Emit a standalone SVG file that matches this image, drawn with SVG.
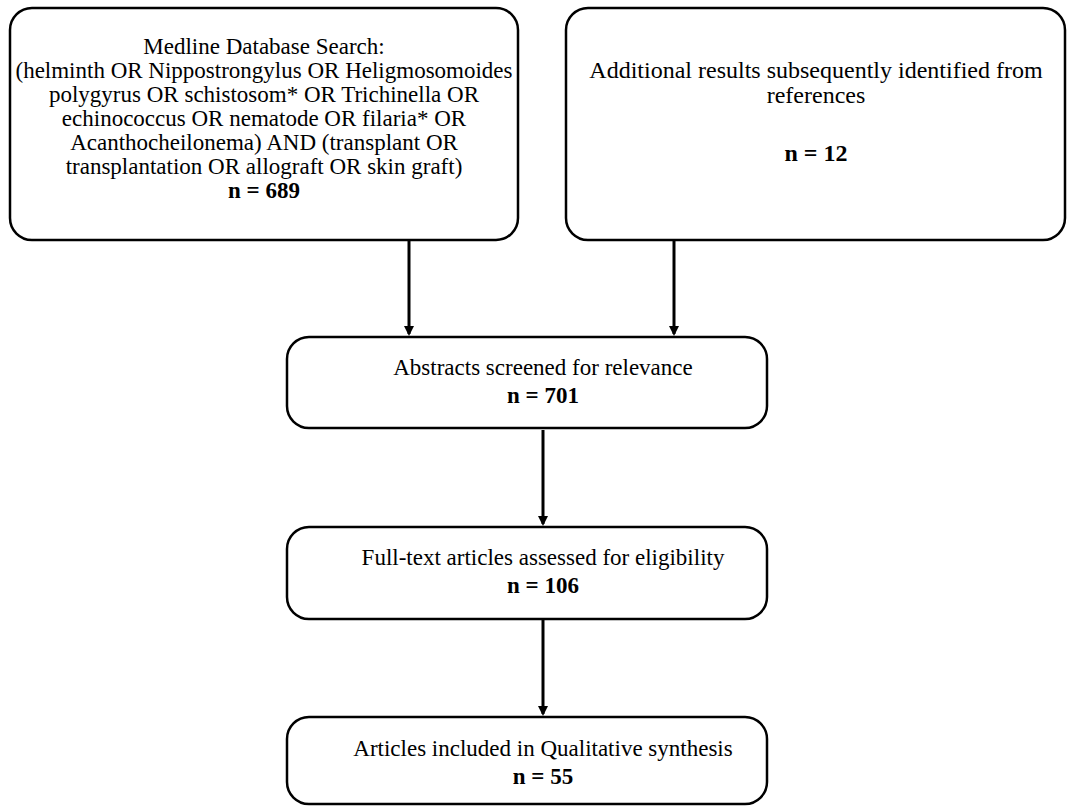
<svg xmlns="http://www.w3.org/2000/svg" width="1067" height="806" viewBox="0 0 1067 806">
<style>
.box{fill:#fff;stroke:#000;stroke-width:2.5}
text{font-family:"Liberation Serif","Times New Roman",serif;font-size:23px;fill:#000;text-anchor:middle}
.b{font-weight:bold}
.l{font-size:24px}
.c{stroke:#000;stroke-width:3;fill:none}
</style>
<defs>
<marker id="ah" markerWidth="10" markerHeight="10" refX="8" refY="5" orient="auto" markerUnits="userSpaceOnUse">
<path d="M0,0 L10,5 L0,10 z" fill="#000"/>
</marker>
</defs>
<rect width="1067" height="806" fill="#fff"/>
<g id="connectors">
<line class="c" x1="409" y1="240" x2="409" y2="334" marker-end="url(#ah)"/>
<line class="c" x1="674" y1="240" x2="674" y2="334" marker-end="url(#ah)"/>
<line class="c" x1="543" y1="430" x2="543" y2="524" marker-end="url(#ah)"/>
<line class="c" x1="543" y1="620" x2="543" y2="714" marker-end="url(#ah)"/>
</g>
<g id="medline">
<rect class="box" x="10" y="8" width="508" height="232" rx="22"/>
<text x="264" y="54">Medline Database Search:</text>
<text x="264" y="78">(helminth OR Nippostrongylus OR Heligmosomoides</text>
<text x="264" y="102">polygyrus OR schistosom* OR Trichinella OR</text>
<text x="264" y="126">echinococcus OR nematode OR filaria* OR</text>
<text x="264" y="150">Acanthocheilonema) AND (transplant OR</text>
<text x="264" y="174">transplantation OR allograft OR skin graft)</text>
<text class="b" x="264" y="198">n = 689</text>
</g>
<g id="additional">
<rect class="box" x="566" y="8" width="499" height="232" rx="22"/>
<text class="l" x="816" y="78">Additional results subsequently identified from</text>
<text class="l" x="816" y="103">references</text>
<text class="b l" x="816" y="161">n = 12</text>
</g>
<g id="abstracts">
<rect class="box" x="287" y="337" width="480" height="91" rx="22"/>
<text x="543" y="375">Abstracts screened for relevance</text>
<text class="b" x="543" y="403">n = 701</text>
</g>
<g id="fulltext">
<rect class="box" x="287" y="527" width="480" height="92" rx="22"/>
<text x="543" y="565">Full-text articles assessed for eligibility</text>
<text class="b" x="543" y="593">n = 106</text>
</g>
<g id="included">
<rect class="box" x="287" y="717" width="480" height="87" rx="22"/>
<text x="543" y="756">Articles included in Qualitative synthesis</text>
<text class="b" x="543" y="784">n = 55</text>
</g>
</svg>
